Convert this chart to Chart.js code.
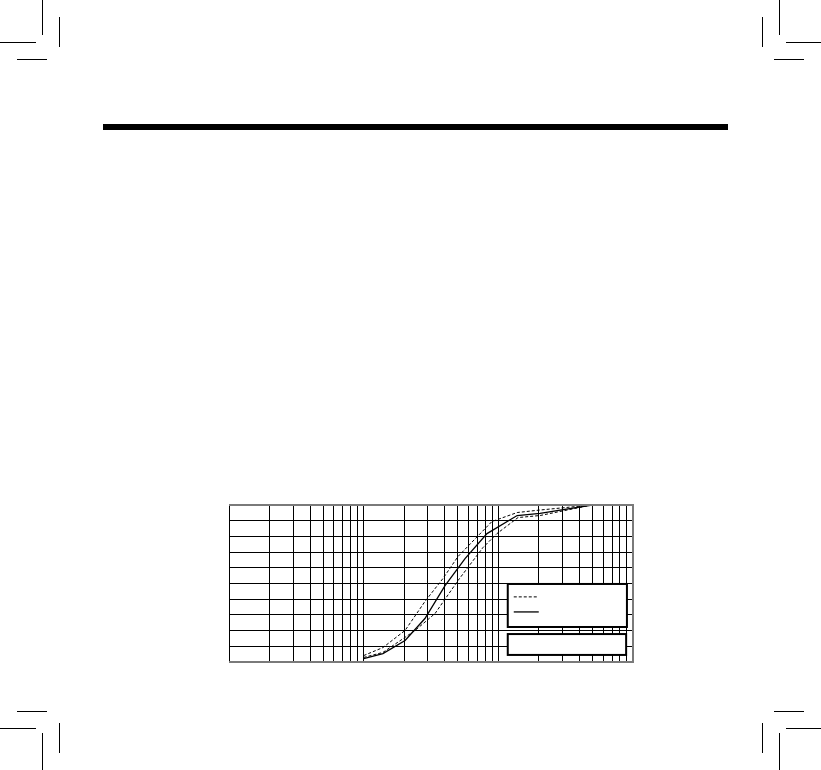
<!DOCTYPE html>
<html>
<head>
<meta charset="utf-8">
<script src="https://cdn.jsdelivr.net/npm/chart.js@4/dist/chart.umd.min.js"></script>
<style>
  html, body { margin: 0; padding: 0; background: #fff; }
  body { width: 821px; height: 770px; position: relative; overflow: hidden; font-family: "DejaVu Sans", sans-serif; }
  .m { position: absolute; background: #000; }
  #wrap { position: absolute; left: 224px; top: 500px; width: 414px; height: 167px; }
</style>
</head>
<body>
<!-- heavy rule -->
<div class="m" style="left:103px;top:124px;width:625px;height:6px;"></div>
<!-- crop marks: top-left -->
<div class="m" style="left:42px;top:0px;width:1px;height:35px;"></div>
<div class="m" style="left:59px;top:17px;width:1px;height:30px;"></div>
<div class="m" style="left:0px;top:42px;width:36px;height:1px;"></div>
<div class="m" style="left:17px;top:59px;width:30px;height:1px;"></div>
<!-- top-right -->
<div class="m" style="left:779px;top:0px;width:1px;height:35px;"></div>
<div class="m" style="left:762px;top:17px;width:1px;height:30px;"></div>
<div class="m" style="left:786px;top:42px;width:35px;height:1px;"></div>
<div class="m" style="left:774px;top:59px;width:30px;height:1px;"></div>
<!-- bottom-left -->
<div class="m" style="left:17px;top:711px;width:30px;height:1px;"></div>
<div class="m" style="left:0px;top:728px;width:36px;height:1px;"></div>
<div class="m" style="left:59px;top:723px;width:1px;height:30px;"></div>
<div class="m" style="left:42px;top:733px;width:1px;height:37px;"></div>
<!-- bottom-right -->
<div class="m" style="left:774px;top:711px;width:30px;height:1px;"></div>
<div class="m" style="left:786px;top:728px;width:35px;height:1px;"></div>
<div class="m" style="left:762px;top:723px;width:1px;height:30px;"></div>
<div class="m" style="left:779px;top:733px;width:1px;height:37px;"></div>

<div id="wrap"><canvas id="c" width="414" height="167"></canvas></div>

<script>
// ---- data (grain size on a log axis, percent passing) ----
const xGridTicks = [0.1,0.2,0.3,0.4,0.5,0.6,0.7,0.8,0.9,
                    1,2,3,4,5,6,7,8,9,
                    10,20,30,40,50,60,70,80,90,100];
const yGridTicks = [0,10,20,30,40,50,60,70,80,90,100];

const sieveUpper = [1.0, 1.39, 2.03, 2.85, 3.88, 5.02, 8.97, 13.8, 20.4, 49.6];
const passUpper  = [4.1, 9.2, 20.1, 38.5, 53.2, 67.2, 89.5, 95.2, 96.8, 100];

const sieveMean  = [1.0, 1.39, 2.03, 2.85, 4.02, 5.66, 8.24, 13.8, 20.4, 49.6];
const passMean   = [2.2, 5.4, 13.7, 27.7, 48.7, 65.9, 81.8, 93.3, 94.6, 100];

const sieveLower = [1.0, 1.39, 2.41, 3.39, 5.02, 7.69, 9.77, 14.0, 20.4, 49.6];
const passLower  = [2.9, 6.1, 20.1, 30.9, 51.9, 72.9, 81.8, 92.0, 93.3, 100];

const toPts = (xs, ys) => xs.map((x, i) => ({ x: x, y: ys[i] }));

const frameAndBoxes = {
  id: 'frameAndBoxes',
  afterDatasetsDraw(chart) {
    const ctx = chart.ctx, a = chart.chartArea;
    const W = a.right - a.left, H = a.bottom - a.top;
    ctx.save();
    // outer frame (top, right, bottom in grey)
    ctx.strokeStyle = '#7a7a7a';
    ctx.lineWidth = 2;
    ctx.beginPath();
    ctx.moveTo(a.left, a.top); ctx.lineTo(a.right, a.top);
    ctx.lineTo(a.right, a.bottom); ctx.lineTo(a.left, a.bottom);
    ctx.stroke();
    // legend box
    const bx = a.left + W * 0.69, bw = W * 0.295;
    const by = a.top + H * 0.503, bh = H * 0.274;
    ctx.fillStyle = '#fff';
    ctx.fillRect(bx, by, bw, bh);
    ctx.strokeStyle = '#000';
    ctx.lineWidth = 2;
    ctx.strokeRect(bx, by, bw, bh);
    // legend samples
    const ds = chart.data.datasets;
    const lx0 = bx + 6, lx1 = bx + 31;
    [[ds[0], by + bh * 0.30], [ds[1], by + bh * 0.65]].forEach(([d, yy]) => {
      ctx.beginPath();
      ctx.setLineDash(d.borderDash || []);
      ctx.lineWidth = d.borderWidth;
      ctx.strokeStyle = d.borderColor;
      ctx.moveTo(lx0, yy); ctx.lineTo(lx1, yy);
      ctx.stroke();
    });
    ctx.setLineDash([]);
    // second (empty) box
    const b2y = a.top + H * 0.822, b2h = H * 0.133, b2w = W * 0.293;
    ctx.fillStyle = '#fff';
    ctx.fillRect(bx, b2y, b2w, b2h);
    ctx.strokeStyle = '#000';
    ctx.lineWidth = 2;
    ctx.strokeRect(bx, b2y, b2w, b2h);
    ctx.restore();
  }
};

new Chart(document.getElementById('c'), {
  type: 'line',
  data: {
    datasets: [
      { data: toPts(sieveUpper, passUpper), borderColor: '#000', borderWidth: 1, borderDash: [3, 2] },
      { data: toPts(sieveMean, passMean),   borderColor: '#000', borderWidth: 1.3 },
      { data: toPts(sieveLower, passLower), borderColor: '#000', borderWidth: 1, borderDash: [3, 2] }
    ]
  },
  options: {
    responsive: false,
    animation: false,
    devicePixelRatio: 1,
    layout: { padding: { left: 5, right: 5, top: 5, bottom: 5 } },
    elements: { point: { radius: 0 }, line: { tension: 0, fill: false } },
    plugins: { legend: { display: false }, tooltip: { enabled: false }, title: { display: false } },
    scales: {
      x: {
        type: 'logarithmic', min: 0.1, max: 100,
        afterBuildTicks: s => { s.ticks = xGridTicks.map(v => ({ value: v })); },
        ticks: { display: false },
        grid: { color: '#000', lineWidth: 1, drawTicks: false },
        border: { display: false }
      },
      y: {
        type: 'linear', min: 0, max: 100,
        afterBuildTicks: s => { s.ticks = yGridTicks.map(v => ({ value: v })); },
        ticks: { display: false },
        grid: { color: '#000', lineWidth: 1, drawTicks: false },
        border: { display: false }
      }
    }
  },
  plugins: [frameAndBoxes]
});
</script>
</body>
</html>
